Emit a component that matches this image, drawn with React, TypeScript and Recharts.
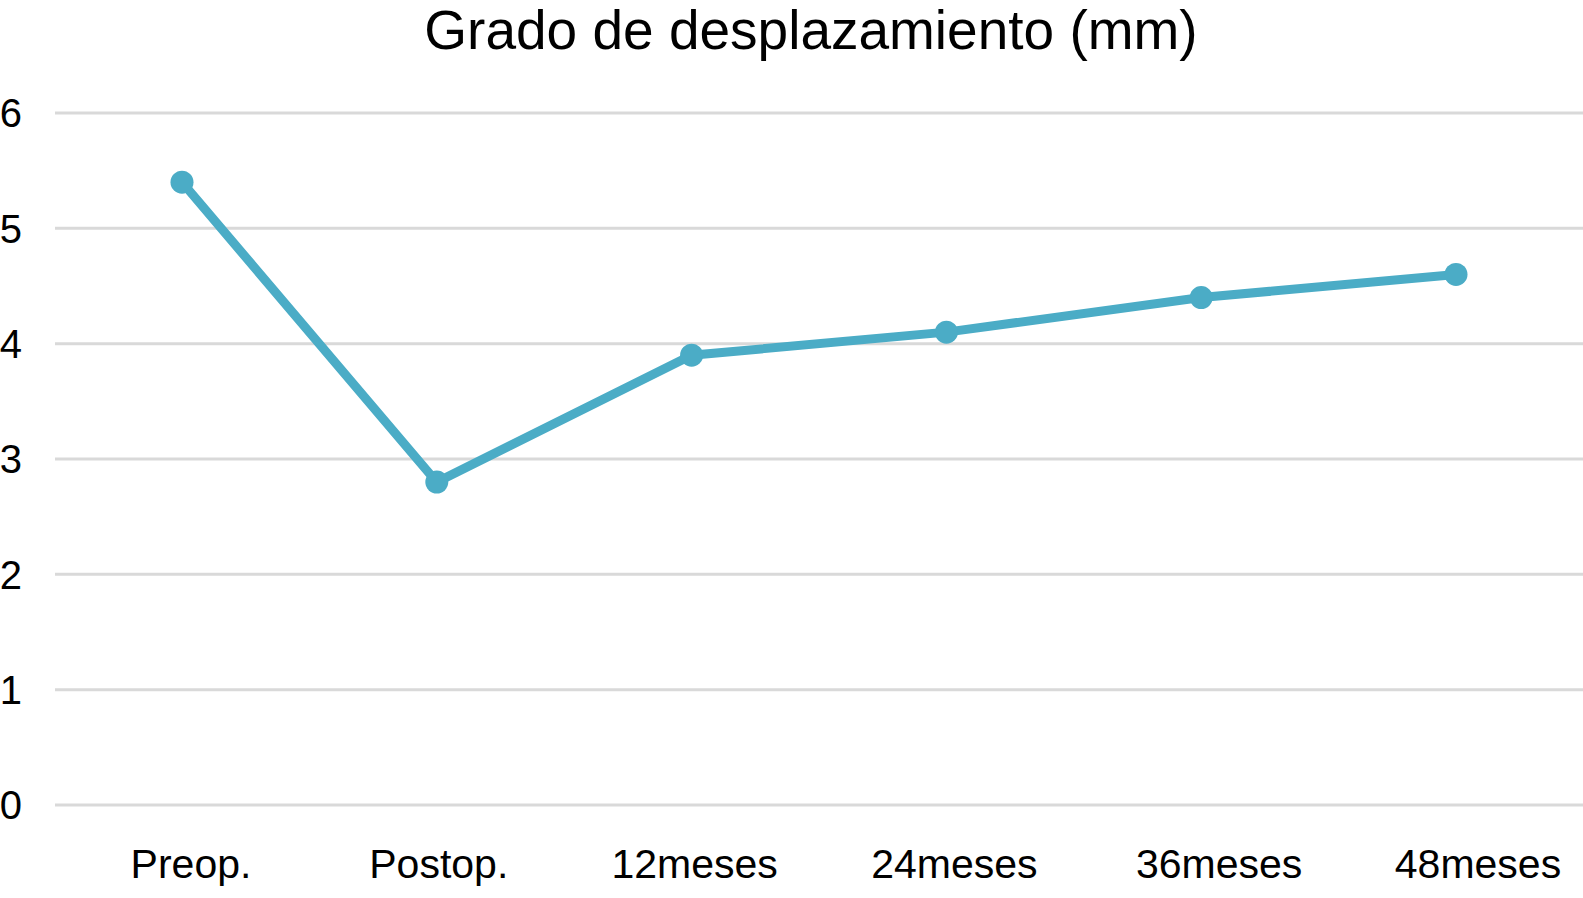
import { LineChart, Line, XAxis, YAxis, CartesianGrid } from "recharts";

const categories = ["Preop.", "Postop.", "12meses", "24meses", "36meses", "48meses"];
const desplazamiento = [5.4, 2.8, 3.9, 4.1, 4.4, 4.6];
const yTicks = [0, 1, 2, 3, 4, 5, 6];

const data = categories.map((name, i) => ({ name, value: desplazamiento[i] }));

const font = '"Liberation Sans", Arial, Helvetica, sans-serif';
const color = "#4bacc6";

// labels in the original are not exactly centred under their markers
const labelNudge = [9, 2, 3, 8, 18, 22];

function CategoryTick(props: any) {
  const { x, y, payload, index } = props;
  return (
    <text
      x={x + (labelNudge[index] ?? 0)}
      y={y}
      dy="0.71em"
      textAnchor="middle"
      fill="#000"
      fontSize={41}
      fontFamily={font}
    >
      {payload.value}
    </text>
  );
}

export default function App() {
  return (
    <div style={{ position: "absolute", left: 0, top: 0, width: 1583, height: 898, background: "#fff" }}>
      <div
        style={{
          position: "absolute",
          left: 311,
          top: 3,
          width: 1000,
          textAlign: "center",
          fontFamily: font,
          fontSize: 55,
          lineHeight: "55px",
          color: "#000",
        }}
      >
        Grado de desplazamiento (mm)
      </div>
      <LineChart
        width={1583}
        height={898}
        data={data}
        margin={{ top: 113, right: 0, bottom: 0, left: 0 }}
      >
        <CartesianGrid vertical={false} stroke="#d9d9d9" strokeWidth={3} />
        <XAxis
          dataKey="name"
          height={93}
          axisLine={false}
          tickLine={false}
          tickSize={0}
          tickMargin={44}
          padding={{ left: 127, right: 127 }}
          tick={<CategoryTick />}
          interval={0}
        />
        <YAxis
          width={55}
          domain={[0, 6]}
          ticks={yTicks}
          axisLine={false}
          tickLine={false}
          tickSize={0}
          tickMargin={33}
          tick={{ fill: "#000", fontSize: 40, fontFamily: font }}
        />
        <Line
          dataKey="value"
          stroke={color}
          strokeWidth={9}
          dot={{ r: 11.5, fill: color, stroke: "none" }}
          activeDot={false}
          isAnimationActive={false}
        />
      </LineChart>
    </div>
  );
}
